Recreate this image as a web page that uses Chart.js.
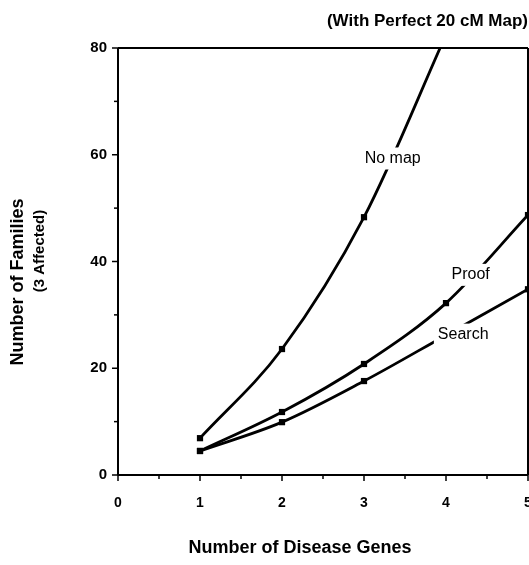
<!DOCTYPE html>
<html>
<head>
<meta charset="utf-8">
<script src="https://cdn.jsdelivr.net/npm/chart.js@4/dist/chart.umd.min.js"></script>
<style>
  html, body { margin: 0; padding: 0; background: #fff; }
  #wrap { width: 529px; height: 565px; position: relative; }
</style>
</head>
<body>
<div id="wrap"><canvas id="chart"></canvas></div>
<script>
// values
const genes = [1, 2, 3, 4, 5];
const noMap = [6.9, 23.6, 48.3, 82.5, null];
const proof = [4.5, 11.8, 20.8, 32.2, 48.7];
const search = [4.5, 9.9, 17.6, 26.2, 34.8];
const seriesNames = ["No map", "Proof", "Search"];
// where the curve labels sit, in data units
const labelSpots = [[3.35, 59.3], [4.3, 37.5], [4.21, 26.3]];
const yTicks = [0, 20, 40, 60, 80];
const xTicks = [0, 1, 2, 3, 4, 5];

const boldFont = '"Liberation Sans", Arial, sans-serif';
const plotRight = 528;

function toPoints(vals) {
  return genes.map((g, i) => ({ x: g, y: vals[i] })).filter(p => p.y !== null);
}

function lineSet(name, vals) {
  return {
    label: name,
    data: toPoints(vals),
    borderColor: "#000",
    backgroundColor: "#000",
    borderWidth: 2.8,
    pointStyle: "rect",
    pointRadius: 4.4,
    pointBorderWidth: 0,
    tension: 0.35,
    cubicInterpolationMode: "monotone",
  };
}

// stretch the plot to the right edge like the original figure
const stretchRight = {
  id: "stretchRight",
  afterLayout(chart) {
    const xs = chart.scales.x;
    xs.right = plotRight;
    xs.width = xs.right - xs.left;
    xs.configure();
    chart.chartArea.right = plotRight;
    chart.chartArea.width = plotRight - chart.chartArea.left;
  },
};

// frame, ticks, labels and titles
const decorations = {
  id: "decorations",
  afterDatasetsDraw(chart) {
    const ctx = chart.ctx;
    const { left, right, top, bottom } = chart.chartArea;
    const xs = chart.scales.x, ys = chart.scales.y;
    ctx.save();
    ctx.strokeStyle = "#000";
    ctx.lineWidth = 2;
    ctx.beginPath();
    ctx.moveTo(left, top); ctx.lineTo(right, top);
    ctx.moveTo(right, top); ctx.lineTo(right, bottom);
    ctx.moveTo(left, top); ctx.lineTo(left, bottom);
    ctx.moveTo(left, bottom); ctx.lineTo(right, bottom);
    ctx.stroke();

    // y ticks
    ctx.lineWidth = 1.5;
    for (let v = 0; v <= 80; v += 10) {
      const y = ys.getPixelForValue(v);
      const len = v % 20 === 0 ? 6 : 4;
      ctx.beginPath(); ctx.moveTo(left - len, y); ctx.lineTo(left, y); ctx.stroke();
    }
    // x ticks
    for (let v = 0; v <= 5; v += 0.5) {
      const x = xs.getPixelForValue(v);
      const len = Number.isInteger(v) ? 6 : 4;
      ctx.beginPath(); ctx.moveTo(x, bottom); ctx.lineTo(x, bottom + len); ctx.stroke();
    }

    // curve labels with white backing
    ctx.font = "16px " + boldFont;
    ctx.textAlign = "center";
    ctx.textBaseline = "middle";
    seriesNames.forEach((name, i) => {
      const px = xs.getPixelForValue(labelSpots[i][0]);
      const py = ys.getPixelForValue(labelSpots[i][1]);
      const w = ctx.measureText(name).width;
      ctx.fillStyle = "#fff";
      ctx.fillRect(px - w / 2 - 4, py - 11, w + 8, 22);
      ctx.fillStyle = "#000";
      ctx.fillText(name, px, py);
    });

    // titles
    ctx.font = "bold 17px " + boldFont;
    ctx.textAlign = "right";
    ctx.fillText("(With Perfect 20 cM Map)", 528, 21);

    ctx.font = "bold 18px " + boldFont;
    ctx.textAlign = "center";
    ctx.fillText("Number of Disease Genes", 300, 548);

    ctx.translate(18, 282);
    ctx.rotate(-Math.PI / 2);
    ctx.fillText("Number of Families", 0, 0);
    ctx.font = "bold 15px " + boldFont;
    ctx.fillText("(3 Affected)", 31, 22);
    ctx.restore();
  },
};

new Chart(document.getElementById("chart"), {
  type: "line",
  data: {
    datasets: [lineSet(seriesNames[0], noMap), lineSet(seriesNames[1], proof), lineSet(seriesNames[2], search)],
  },
  options: {
    responsive: true,
    maintainAspectRatio: false,
    animation: false,
    layout: { padding: { top: 48, right: 1, left: 0, bottom: 0 } },
    plugins: { legend: { display: false }, tooltip: { enabled: false } },
    scales: {
      x: {
        type: "linear",
        min: 0,
        max: 5,
        afterFit: (s) => { s.height = 90; },
        afterBuildTicks: (s) => { s.ticks = xTicks.map(v => ({ value: v })); },
        grid: { display: false, drawTicks: false },
        border: { display: false },
        ticks: {
          color: "#000",
          padding: 20,
          font: { family: boldFont, size: 14, weight: "bold" },
        },
      },
      y: {
        min: 0,
        max: 80,
        afterFit: (s) => { s.width = 118; },
        afterBuildTicks: (s) => { s.ticks = yTicks.map(v => ({ value: v })); },
        grid: { display: false, drawTicks: false },
        border: { display: false },
        ticks: {
          color: "#000",
          padding: 11,
          font: { family: boldFont, size: 15, weight: "bold" },
        },
      },
    },
  },
  plugins: [stretchRight, decorations],
});
</script>
</body>
</html>
